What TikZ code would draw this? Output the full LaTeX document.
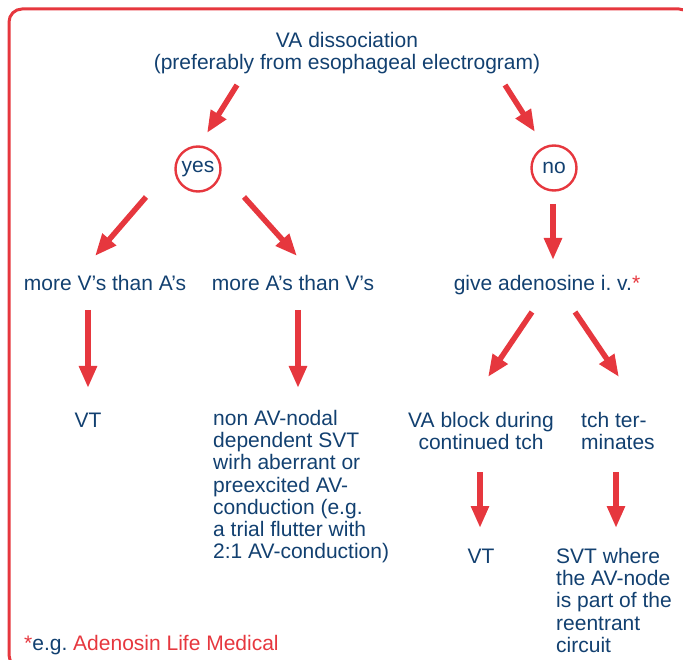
\documentclass[tikz,border=0pt]{standalone}
\usepackage{fontspec}
\setmainfont{Liberation Sans}
\usetikzlibrary{arrows.meta}
\definecolor{txtblue}{RGB}{18,64,112}
\definecolor{ared}{RGB}{230,55,62}
\frenchspacing
\begin{document}
\begin{tikzpicture}[x=1pt,y=-1pt,
  txt/.style={font=\fontsize{21}{22.2}\selectfont, text=txtblue, inner sep=0pt},
  arr/.style={draw=ared, line width=5.5pt, -{Triangle[length=22pt,width=17pt]}},
  circ/.style={circle, draw=ared, line width=2.4pt, minimum size=45pt, inner sep=0pt,
    font=\fontsize{21}{22.2}\selectfont, text=txtblue}]
\useasboundingbox (0,0) rectangle (683,660);
\clip (0,0) rectangle (683,660);
\draw[ared, line width=3pt, rounded corners=13pt] (9,9) rectangle (692,668);

% nodes
\node[txt, align=center, anchor=north] (title) at (347,32) {VA dissociation\\(preferably from esophageal electrogram)};
\node[circ] (yes) at (198,169) {yes};
\node[circ] (no) at (554,168) {no};
\node[txt, anchor=base] (mv) at (105,290.5) {more V's than A's};
\node[txt, anchor=base] (ma) at (293,290.5) {more A's than V's};
\node[txt, anchor=base] (ad) at (547,290.5) {give adenosine i. v.\textcolor{ared}{*}};
\node[txt, anchor=base] (vt1) at (88,427.5) {VT};
\node[txt, anchor=north west, align=left] (svt1) at (213,410) {non AV-nodal\\dependent SVT\\wirh aberrant or\\preexcited AV-\\conduction (e.g.\\a trial flutter with\\2:1 AV-conduction)};
\node[txt, anchor=north, align=center] (vab) at (481,412) {VA block during\\continued tch};
\node[txt, anchor=north west, align=left] (tt) at (581,412) {tch ter-\\minates};
\node[txt, anchor=base] (vt2) at (481,563.5) {VT};
\node[txt, anchor=north west, align=left] (svt2) at (556,548) {SVT where\\the AV-node\\is part of the\\reentrant\\circuit};
\node[txt, anchor=base west] (foot) at (24,650.5) {\textcolor{ared}{*}e.g. \textcolor{ared}{Adenosin Life Medical}};

% arrow end points
\coordinate (t1) at (237,85);  \coordinate (h1) at (207,133);
\coordinate (t2) at (505,85);  \coordinate (h2) at (535,132);
\coordinate (t3) at (146,197); \coordinate (h3) at (95,256);
\coordinate (t4) at (244,197); \coordinate (h4) at (297,256);
\coordinate (t5) at (553,204); \coordinate (h5) at (553,260);
\coordinate (t6) at (88,310);  \coordinate (h6) at (88,388);
\coordinate (t7) at (298,310); \coordinate (h7) at (298,388);
\coordinate (t8) at (532,312); \coordinate (h8) at (488,377);
\coordinate (t9) at (575,312); \coordinate (h9) at (619,377);
\coordinate (t10) at (480,472); \coordinate (h10) at (480,528);
\coordinate (t11) at (616,472); \coordinate (h11) at (616,528);

\foreach \i in {1,...,11} \draw[arr] (t\i) -- (h\i);
\end{tikzpicture}
\end{document}
